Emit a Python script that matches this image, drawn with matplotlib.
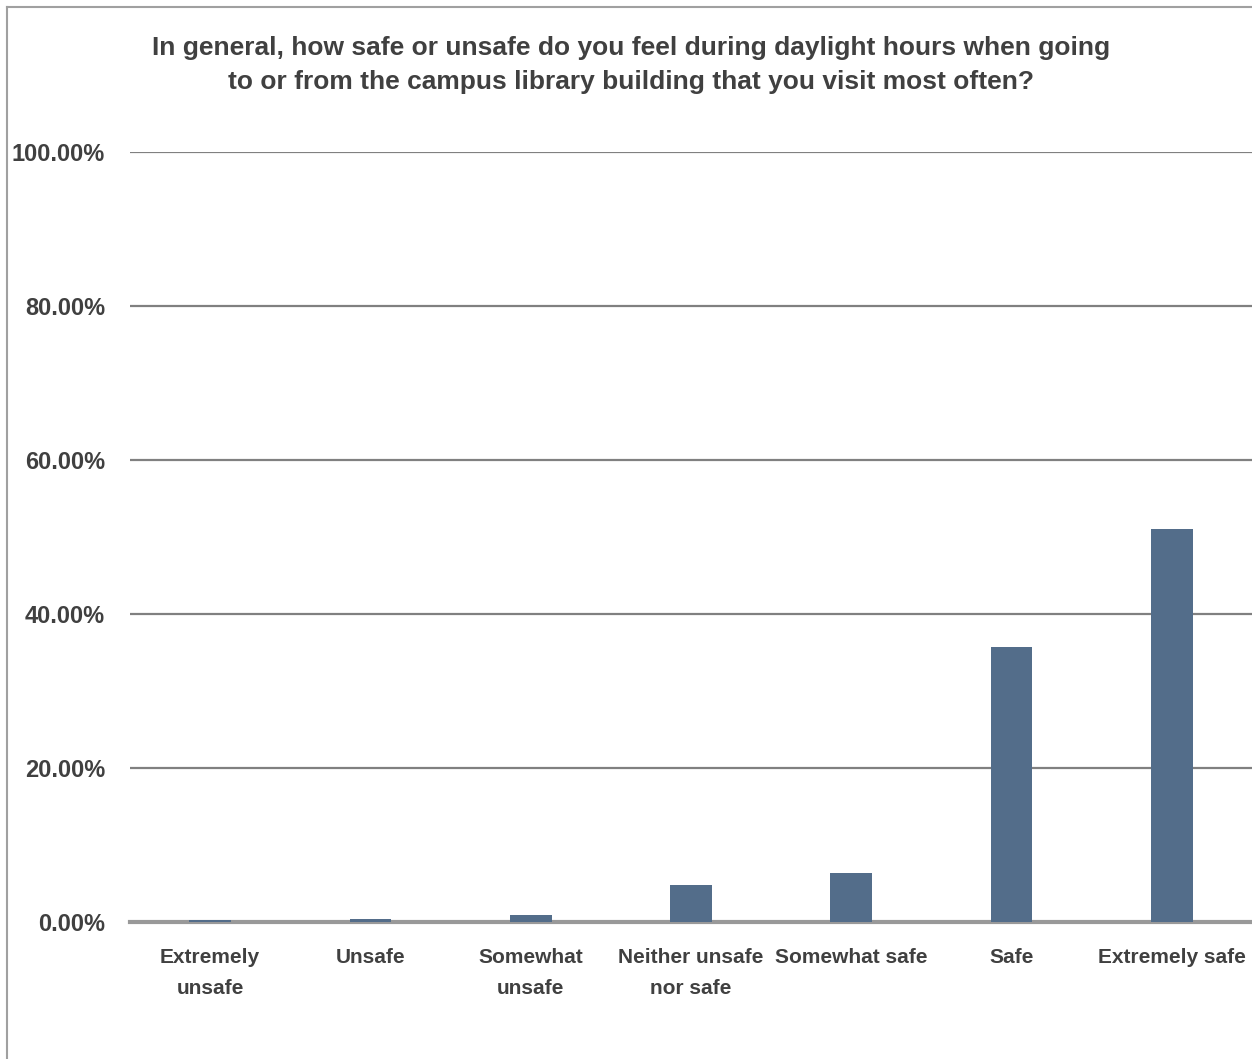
import matplotlib.pyplot as plt
from matplotlib.lines import Line2D

# survey answers and share of respondents (%)
categories = ['Extremely\nunsafe', 'Unsafe', 'Somewhat\nunsafe', 'Neither unsafe\nnor safe',
              'Somewhat safe', 'Safe', 'Extremely safe']
percents = [0.2, 0.45, 0.95, 4.81, 6.36, 35.75, 51.04]
y_ticks = [0, 20, 40, 60, 80, 100]
title = ('In general, how safe or unsafe do you feel during daylight hours when going\n'
         'to or from the campus library building that you visit most often?')

plt.rcParams['font.family'] = ['Liberation Sans Narrow', 'Liberation Sans', 'DejaVu Sans']
txt_color = '#404040'

W, H = 1252, 1059
fig = plt.figure(figsize=(W / 100, H / 100), dpi=100)
ax = fig.add_axes([130 / W, (H - 922) / H, 1 - 130 / W, (922 - 152) / H])

x = range(len(categories))
ax.bar(x, percents, width=0.26, color='#536d8a', zorder=5)

ax.set_xlim(-0.5, len(categories) - 0.5)
ax.set_ylim(0, 100)
ax.set_yticks(y_ticks)
ax.set_yticklabels([f'{v:.2f}%' for v in y_ticks], fontsize=17, fontweight='bold', color=txt_color)
ax.set_xticks(list(x))
ax.set_xticklabels(categories, fontsize=15, fontweight='bold', color=txt_color, linespacing=1.75)
ax.tick_params(axis='both', length=0)
ax.tick_params(axis='y', pad=18)
ax.tick_params(axis='x', pad=19)

ax.grid(axis='y', color='#808080', linewidth=1.6, zorder=0)
for s in ['top', 'right', 'left']:
    ax.spines[s].set_visible(False)
ax.spines['bottom'].set_color('#999999')
ax.spines['bottom'].set_linewidth(3)
ax.spines['bottom'].set_zorder(4)

fig.text(631 / W, 1 - 65 / H, title, ha='center', va='center', fontsize=19,
         fontweight='bold', color=txt_color, linespacing=1.55)

# chart frame (only left and top edges visible)
fig.add_artist(Line2D([7 / W, 7 / W], [0, 1 - 7 / H], color='#a0a0a0', linewidth=1.5,
                      transform=fig.transFigure))
fig.add_artist(Line2D([7 / W, 1], [1 - 7 / H, 1 - 7 / H], color='#a0a0a0', linewidth=1.5,
                      transform=fig.transFigure))

fig.savefig('out.png', dpi=100)
